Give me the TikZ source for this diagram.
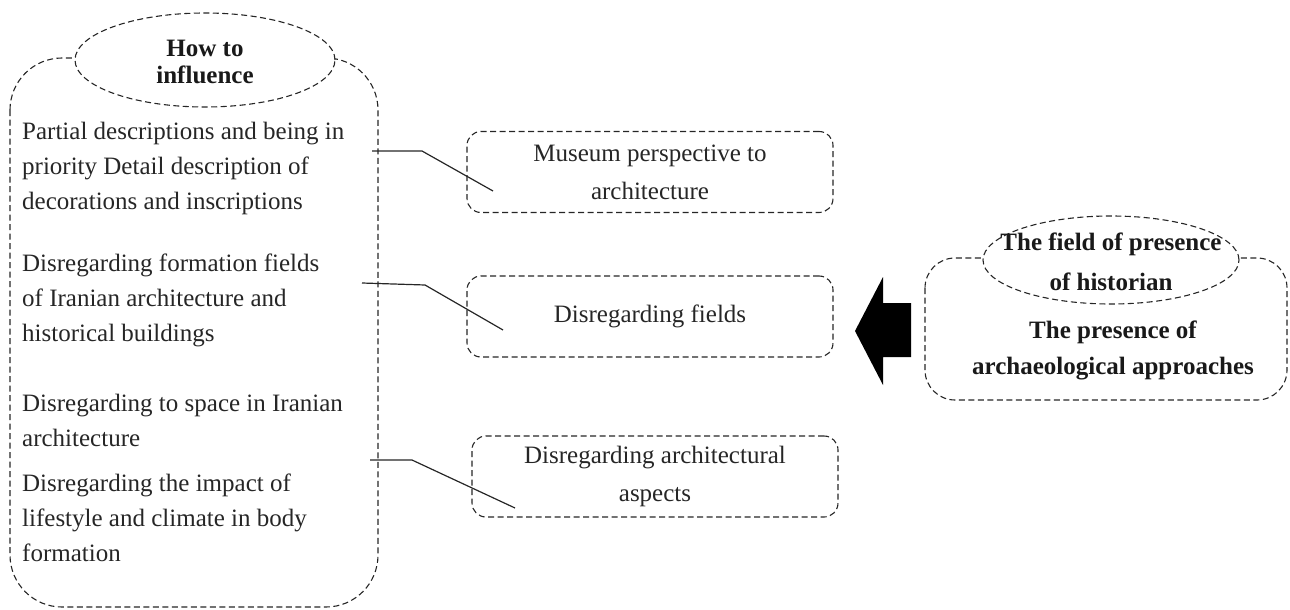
\documentclass[tikz,border=0pt]{standalone}
\usepackage{fontspec}
\setmainfont{Liberation Serif}
\usetikzlibrary{shapes.geometric}
\begin{document}
\begin{tikzpicture}[x=1pt,y=-1pt,
  dsh/.style={draw=black!85,line width=1.1pt,dash pattern=on 6pt off 3.5pt},
  txt/.style={font=\fontsize{25}{35}\selectfont,inner sep=0pt,text=black!85},
  btxt/.style={font=\fontsize{25}{36}\selectfont\bfseries,inner sep=0pt,text=black!90},
  midbox/.style={dsh,rounded corners=14pt,minimum width=366pt,minimum height=81pt,align=center,font=\fontsize{25}{38}\selectfont,text=black!85},
  conn/.style={draw=black!85,line width=1.2pt},
  oval/.style={dsh,ellipse,fill=white,inner sep=0pt}]
\useasboundingbox (0,0) rectangle (1290,610);
% left container
\draw[dsh,rounded corners=52pt] (10,58) rectangle (378,607);
\node[oval,minimum width=260pt,minimum height=94pt] (howo) at (205,60) {};
\node[btxt,align=center,font=\fontsize{25}{27}\selectfont\bfseries] (how) at (205,62) {How to\\influence};
% left texts
\node[txt,align=left,anchor=west] (g1) at (22,168) {Partial descriptions and being in\\priority Detail description of\\decorations and inscriptions};
\node[txt,align=left,anchor=west] (g2) at (22,300) {Disregarding formation fields\\of Iranian architecture and\\historical buildings};
\node[txt,align=left,anchor=west] (g3) at (22,420) {Disregarding to space in Iranian\\architecture};
\node[txt,align=left,anchor=west] (g4) at (22,518) {Disregarding the impact of\\lifestyle and climate in body\\formation};
% middle boxes
\node[midbox] (m1) at (650,172) {Museum perspective to\\architecture};
\node[midbox] (m2) at (650,316.5) {Disregarding fields};
\node[midbox] (m3) at (655,476.5) {Disregarding architectural\\aspects};
% connectors
\coordinate (a1) at (372,151); \coordinate (b1) at (422,151); \coordinate (e1) at (493,191);
\coordinate (a2) at (362,283); \coordinate (b2) at (425,285); \coordinate (e2) at (503,330);
\coordinate (a3) at (370,460); \coordinate (b3) at (412,460); \coordinate (e3) at (515,508);
\draw[conn] (a1) -- (b1) -- (e1);
\draw[conn] (a2) -- (b2) -- (e2);
\draw[conn] (a3) -- (b3) -- (e3);
% right container
\draw[dsh,rounded corners=30pt] (925,258) rectangle (1287,400);
\node[oval,minimum width=256pt,minimum height=88pt] (fo) at (1111,260) {};
\node[btxt,align=center,font=\fontsize{25}{40}\selectfont\bfseries] (field) at (1111,262) {The field of presence\\of historian};
\node[btxt,align=center] (pres) at (1113,350) {The presence of\\archaeological approaches};
% big arrow
\fill[black] (911,303) -- (883,303) -- (883,277) -- (855,331) -- (883,385) -- (883,357) -- (911,357) -- cycle;
\end{tikzpicture}
\end{document}
